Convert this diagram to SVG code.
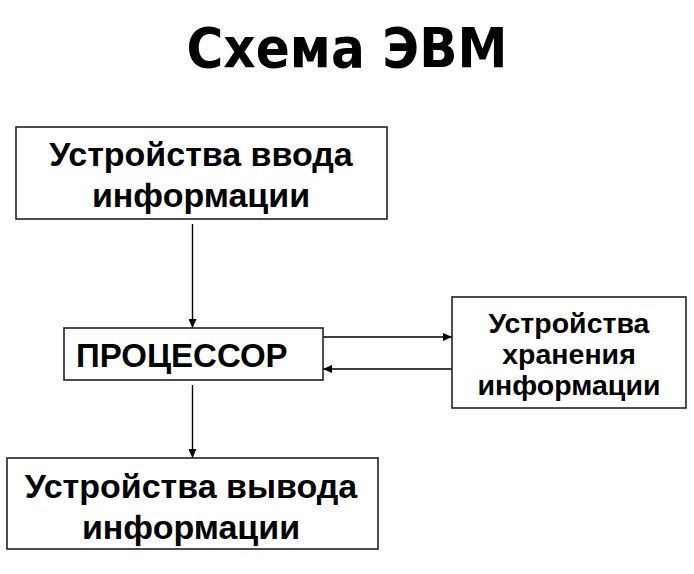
<svg xmlns="http://www.w3.org/2000/svg" width="694" height="574" viewBox="0 0 694 574">
<style>
.box{fill:#fff;stroke:#222;stroke-width:1.6}
.t{font-family:"Liberation Sans",Arial,sans-serif;font-weight:bold;fill:#000}
.c{stroke:#000;stroke-width:1.4;fill:none;marker-end:url(#ah)}
</style>
<defs>
<marker id="ah" markerUnits="userSpaceOnUse" markerWidth="9" markerHeight="8" refX="9" refY="4" orient="auto">
<path d="M0,0 L9,4 L0,8 z" fill="#000"/>
</marker>
</defs>
<rect width="694" height="574" fill="#fff"/>
<text x="347" y="67" text-anchor="middle" font-family="'DejaVu Sans',Verdana,sans-serif" font-weight="bold" font-size="55" textLength="321" lengthAdjust="spacingAndGlyphs">Схема ЭВМ</text>
<g id="connectors">
<line class="c" x1="192.5" y1="224" x2="192.5" y2="328"/>
<line class="c" x1="323" y1="337" x2="452" y2="337"/>
<line class="c" x1="452" y1="369" x2="323" y2="369"/>
<line class="c" x1="192.5" y1="385" x2="192.5" y2="458"/>
</g>
<g id="input">
<rect class="box" x="16" y="127" width="371" height="92"/>
<text class="t" font-size="34" text-anchor="middle" x="201" y="166">Устройства ввода</text>
<text class="t" font-size="34" text-anchor="middle" x="201" y="207">информации</text>
</g>
<g id="cpu">
<rect class="box" x="64" y="328" width="259" height="52"/>
<text class="t" font-size="33" x="76" y="367">ПРОЦЕССОР</text>
</g>
<g id="storage">
<rect class="box" x="452" y="297" width="234" height="111"/>
<text class="t" font-size="28.5" text-anchor="middle" x="569" y="333">Устройства</text>
<text class="t" font-size="28.5" text-anchor="middle" x="569" y="364">хранения</text>
<text class="t" font-size="28.5" text-anchor="middle" x="569" y="395">информации</text>
</g>
<g id="output">
<rect class="box" x="7" y="458" width="371" height="91"/>
<text class="t" font-size="34" text-anchor="middle" x="191" y="498">Устройства вывода</text>
<text class="t" font-size="34" text-anchor="middle" x="191" y="539">информации</text>
</g>
</svg>
